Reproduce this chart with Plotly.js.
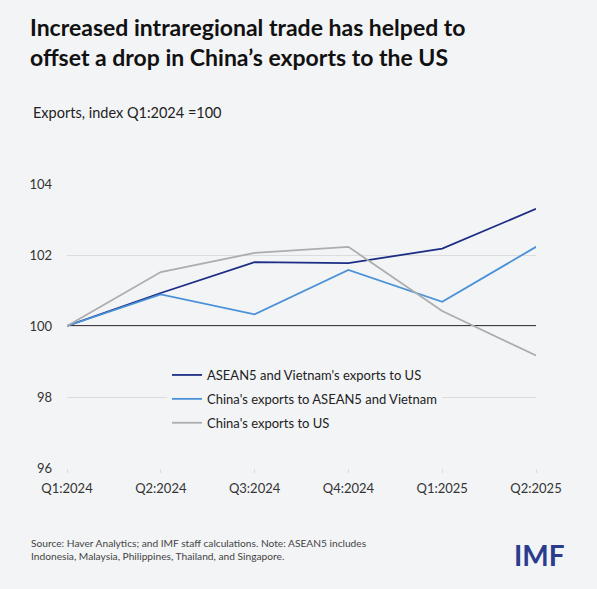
<!DOCTYPE html>
<html>
<head>
<meta charset="utf-8">
<script src="https://cdn.plot.ly/plotly-3.0.1.min.js"></script>
<style>
html,body{margin:0;padding:0;background:#f3f4f6;}
#chart{width:597px;height:589px;}
</style>
</head>
<body>
<div id="chart"></div>
<script>
var quarters = ["Q1:2024","Q2:2024","Q3:2024","Q4:2024","Q1:2025","Q2:2025"];
var aseanToUS = [100, 100.93, 101.80, 101.77, 102.18, 103.30];
var chinaToAsean = [100, 100.89, 100.33, 101.58, 100.68, 102.23];
var chinaToUS = [100, 101.52, 102.06, 102.23, 100.42, 99.17];
var seriesNames = ["ASEAN5 and Vietnam's exports to US", "China's exports to ASEAN5 and Vietnam", "China's exports to US"];
var yTicks = [96, 98, 100, 102, 104];

var L = 67, R = 536, T = 184, B = 468;
function px(x){ return (x - L) / (R - L); }
function py(y){ return (B - y) / (B - T); }

var font = "Lato, 'Open Sans', sans-serif";
var traces = [
  {x: quarters, y: aseanToUS, name: seriesNames[0], legendgroup: "a", mode: "lines", line: {color: "#1c2d86", width: 1.8}},
  {x: quarters, y: chinaToAsean, name: seriesNames[1], legendgroup: "b", mode: "lines", line: {color: "#4a92d8", width: 1.8}},
  {x: quarters, y: chinaToUS, name: seriesNames[2], legendgroup: "c", mode: "lines", line: {color: "#adadad", width: 1.8}}
];

var layout = {
  width: 597, height: 589,
  paper_bgcolor: "#f3f4f6", plot_bgcolor: "#f3f4f6",
  margin: {l: L, r: 597 - R, t: T, b: 589 - B, pad: 0},
  font: {family: font, color: "#222"},
  showlegend: true,
  legend: {x: px(167), y: py(360), xanchor: "left", yanchor: "top",
    bgcolor: "#f3f4f6", font: {size: 13, color: "#222", family: font},
    tracegroupgap: 4, itemwidth: 30, traceorder: "grouped"},
  xaxis: {type: "category", range: [0, 5], showgrid: false, zeroline: false,
    showline: false, ticks: "outside", ticklen: 4, tickcolor: "#dcdcdc",
    tickfont: {size: 13, color: "#333", family: font}, ticklabelstandoff: 4, fixedrange: true},
  yaxis: {range: [96, 104], tickvals: yTicks, ticktext: yTicks.map(String),
    showgrid: true, gridcolor: "#dcdcdc", gridwidth: 1, zeroline: false, showline: false,
    tickfont: {size: 13, color: "#333", family: font}, ticklabelstandoff: 14, fixedrange: true},
  shapes: [
    {type: "line", xref: "paper", x0: 0, x1: 1, yref: "y", y0: 100, y1: 100, line: {color: "#000", width: 1.3}, layer: "below"}
  ],
  annotations: [
    {xref: "paper", yref: "paper", x: px(28), y: py(11), xanchor: "left", yanchor: "top", align: "left", showarrow: false,
      text: "<b>Increased intraregional trade has helped to<br>offset a drop in China\u2019s exports to the US</b>",
      font: {size: 23, color: "#111", family: font}},
    {xref: "paper", yref: "paper", x: px(31), y: py(102), xanchor: "left", yanchor: "top", showarrow: false,
      text: "Exports, index Q1:2024 =100", font: {size: 14.5, color: "#222", family: font}},
    {xref: "paper", yref: "paper", x: px(29), y: py(535), xanchor: "left", yanchor: "top", align: "left", showarrow: false,
      text: "Source: Haver Analytics; and IMF staff calculations. Note: ASEAN5 includes<br>Indonesia, Malaysia, Philippines, Thailand, and Singapore.",
      font: {size: 10.2, color: "#444", family: font}},
    {xref: "paper", yref: "paper", x: px(567), y: py(555), xanchor: "right", yanchor: "middle", showarrow: false,
      text: "<b>IMF</b>", font: {size: 28, color: "#2a3c8c", family: font}}
  ]
};

Plotly.newPlot("chart", traces, layout, {displayModeBar: false, staticPlot: true});
</script>
</body>
</html>
